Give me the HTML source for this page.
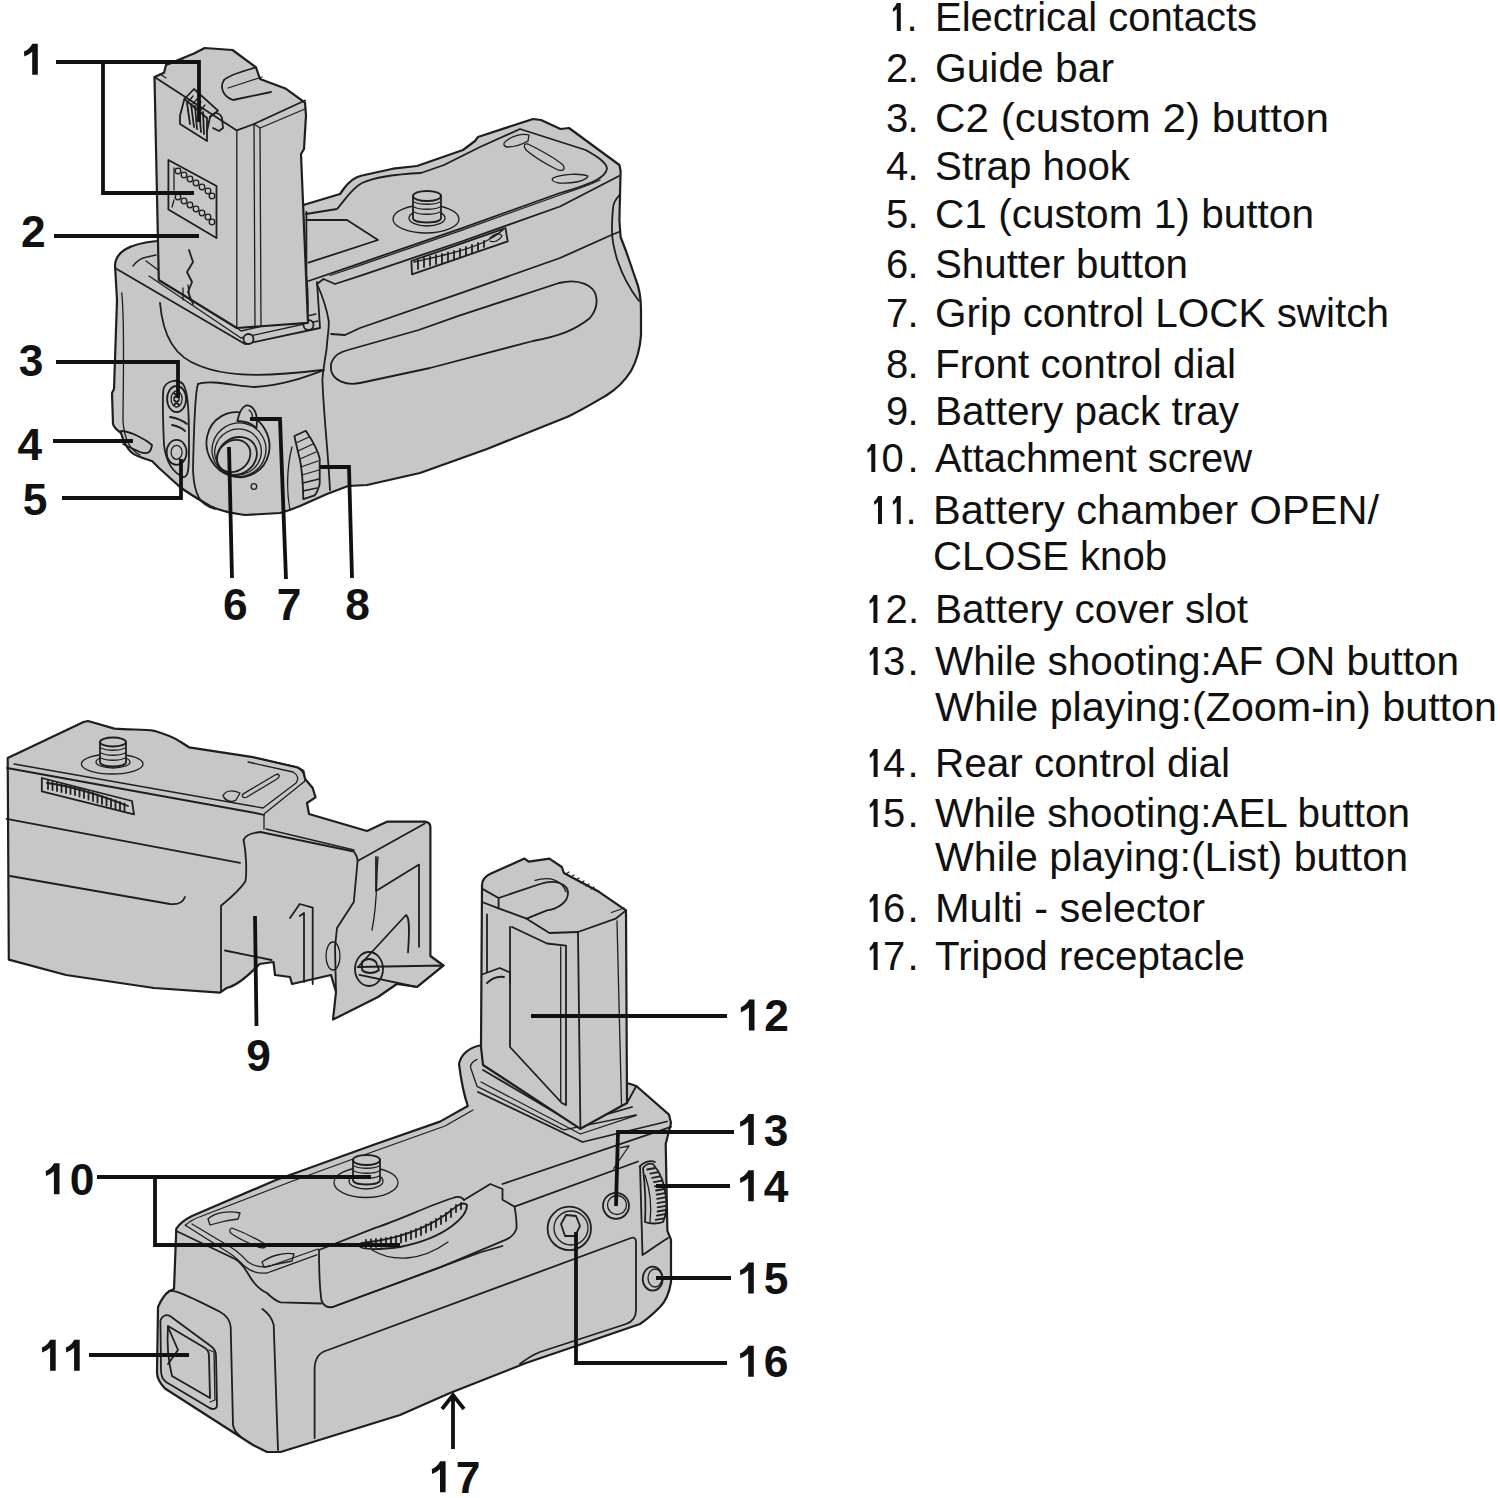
<!DOCTYPE html>
<html><head><meta charset="utf-8">
<style>
html,body{margin:0;padding:0;background:#fff;}
body{width:1500px;height:1498px;overflow:hidden;position:relative;}
svg{position:absolute;left:0;top:0;}
.t{font-family:"Liberation Sans",sans-serif;font-size:40px;fill:#111;}
.n{font-family:"Liberation Sans",sans-serif;font-weight:bold;font-size:44.3px;fill:#111;}
.one{fill:#111;stroke:none;}
.o{fill:#c7c7c7;stroke:#1e1e1e;stroke-width:2.2;stroke-linejoin:round;}
.l{fill:none;stroke:#1e1e1e;stroke-width:1.8;stroke-linecap:round;stroke-linejoin:round;}
.lt{fill:none;stroke:#1e1e1e;stroke-width:1.3;stroke-linecap:round;stroke-linejoin:round;}
.f{fill:#c7c7c7;stroke:#1e1e1e;stroke-width:1.8;stroke-linejoin:round;}
.ld{fill:none;stroke:#111;stroke-width:3.8;}
</style></head><body>
<svg width="1500" height="1498" viewBox="0 0 1500 1498">
<g id="top">
  <!-- body silhouette -->
  <path class="o" d="M115,265 C116,252 128,244 157,241 L300,206 L340,194 L344,188.5 C350,180 356,177 361,175.7 L393,168.7 L417,166 L463,150 L475,141 L478,137 L533,119 L541,120 L560.5,129 L569,128 L619.4,165 L620.6,171 L619.4,220 L620.6,237 L626,251 L636,280 C640,290 641,300 641,310 L641,335 C640,350 636,362 631,371 C624,382 615,390 607,395 C590,405 580,411 567,417 L487,449 L420,473 L367,485 L348,486 L327,494 L300,506 C290,510 285,512 280,513 L245,515 C230,513 218,510 210,506 C198,499 188,493 180,487 L159,468 L152,461 C142,458 135,456 131,452 C126,447 123,440 121,433 C117,430 114,428 113,424 L112,393 L114,389 L117,300 Z"/>
  <!-- plate top inner border -->
  <path class="l" d="M306,214 L337,209 C345,200 352,188 362,183 C375,177 400,174 421,173 L444,165 L480,147 L520,129 L585.7,150 C598,157 606,162 607,168.4 C606,176 598,182 560,193 L460,228.8 L360,263.3 L308.5,281"/>
  <!-- slot quad -->
  <path class="l" d="M306.4,220 L347,220 L378,240 L308.5,262.7"/>
  <path class="l" d="M306.4,212 V276 C308,290 308,305 307.5,316"/>
  <!-- plate front edge -->
  <path class="lt" d="M330,275.5 L360,265.3 L460,230.8 L560,195 C575,190 590,185 600,180"/>

  <!-- grip top line -->
  <path class="l" d="M317,284 L323.5,279 L335,284 L360,275.8 L460,242 L560,206.5 L619,176"/>
  <!-- grip boundary -->
  <path class="l" d="M317,284 C322,295 327,310 328.8,321.5 C329,330 327,340 326.7,348 C325,360 323,370 322.4,380 C324,420 328,450 330,490"/>
  <!-- grip line -->
  <path class="l" d="M331,334 L345,335 L360,328 L460,293.4 L560,258 L611.4,235 L620,231.5"/>
  <!-- right inner contour -->
  <path class="l" d="M619,195.5 C615,200 613,205 613,208.7 C612,218 612,225 612,230.7 C612,238 613,242 613.6,245.4 C615,252 616,256 617.3,260 C624,280 632,292 639,301"/>
  <!-- oval -->
  <path class="l" d="M331,364 C334,355 340,352 348,350 L418.7,330 L460,315.4 L559,283 C580,278 594,286 596,296 C598,305 595,312 590,318 C575,330 560,336 533,341 L430,368 L360,383 C345,386 333,380 331,370 Z"/>
  <!-- strap slots -->
  <path class="lt" d="M528,144 C540,150 555,158 563,165 C566,170 562,172 556,169 C546,164 533,156 526,150 C523,146 524,143 528,144Z"/>
  <path class="lt" d="M506,141 C512,136 522,133 529,135 L528,141 C521,145 512,147 507,147 C503,146 503,143 506,141 Z"/>
  <path class="lt" d="M553,178 C562,174 580,173 588,176 C586,181 572,184 559,183 C553,182 551,180 553,178 Z"/>
  <!-- dial window -->
  <path class="l" d="M411.4,261 L505.5,228.2 L507.7,241.4 L412,274.3 Z"/>
  <path class="lt" d="M414,262 C440,256 470,250 488,240 C496,236 500,232 503,230"/>
  <path class="l" d="M418,260 v9 M424,258 v9 M430,256.5 v9 M436,255 v9 M442,254 v9 M448,252.5 v9 M454,251 v9 M460,249 v8.5 M466,247 v8 M472,245 v7.5 M478,243 v7 M484,241 v6"/>
  <path class="lt" d="M490,238 C494,234 500,232 502,236 C500,240 494,243 490,241"/>
  <!-- screw -->
  <ellipse class="lt" cx="426" cy="219" rx="33" ry="14"/>
  <ellipse class="lt" cx="427" cy="218" rx="18" ry="8"/>
  <path class="f" d="M413,196 L413,218 C413,224 441,224 441,218 L441,196 Z"/>
  <ellipse class="f" cx="427" cy="196" rx="14" ry="5"/>
  <path class="lt" d="M414,202 C420,205 434,205 440,202 M414,207 C420,210 434,210 440,207 M414,212 C420,215 434,215 440,212"/>
  <!-- left body inner line -->
  <path class="lt" d="M121.7,293 C125,320 123,390 123,420 C124,440 130,450 140,455"/>
  <!-- neck band -->
  <path class="l" d="M160,303 C163,337 175,357 200,366 C220,374 250,379 322,370"/>
  <!-- shutter panel -->
  <path class="l" d="M198,384 C210,379 240,387 255,387 C285,385 305,377 324,370"/>
  <path class="l" d="M198,384 C195,392 194,420 193,470 C194,495 200,505 215,509"/>
  <!-- dial curve -->
  <path class="lt" d="M292,447 C286,470 287,495 290,510"/>
  <!-- rim -->
  <path class="l" d="M115,268 L245,344 L320,328 L317,282"/>
  <path class="lt" d="M133,266 C136,262 140,258 147,257 L156,255"/>
  <path class="lt" d="M146,261 L241,331 L316,314"/>
  <path class="lt" d="M149,276 L241,338 L318,321"/>
  <circle class="f" cx="248.5" cy="339" r="5"/>
  <circle class="f" cx="308.5" cy="325" r="5"/>
  <!-- side buttons recess -->
  <path class="l" d="M163.5,389 C166,381 177,378 183,384 C189,392 189,420 189,450 C189,470 188,478 183,477 C172,472 166,462 164,445 C163,420 162,400 163.5,389 Z"/>
  <ellipse class="l" cx="176.6" cy="399" rx="9.5" ry="13"/><ellipse class="lt" cx="176.6" cy="399" rx="5.5" ry="8"/>
  <path class="l" d="M174,393 l5,5 M179,393 l-5,5 M174,400 l5,5 M179,400 l-5,5"/>
  <ellipse class="l" cx="176.6" cy="452.3" rx="10" ry="12.5"/><ellipse class="lt" cx="176.6" cy="452.3" rx="5.5" ry="7"/>
  <path class="l" d="M170,417 C176,418 182,420 187,424 M172,425 C177,426 182,428 185,431"/>
  <!-- strap hook -->
  <path class="l" d="M121,431 C130,431 145,439 152,445 C151,452 148,455 140,452 C133,449 127,446 123,444"/>
  <!-- shutter -->
  <ellipse class="l" cx="238" cy="444.7" rx="31" ry="33" transform="rotate(-30 238 444.7)"/>
  <path class="f" d="M237.4,421 C239,413 242,407 246,405.5 C250,405 254,408 256,414 C257,418 257,424 256.4,428 C252,424 246,421 237.4,421 Z"/>
  <path class="lt" d="M249,410 C252,412 253,416 252,420"/>
  <ellipse class="lt" cx="239" cy="449.7" rx="27" ry="26.7" transform="rotate(-30 239 449.7)"/>
  <ellipse class="lt" cx="238" cy="452" rx="23.5" ry="22.8" transform="rotate(-30 238 452)"/>
  <ellipse class="l" cx="236.9" cy="456" rx="20.9" ry="18" transform="rotate(-35 236.9 456)"/>
  <ellipse class="f" cx="233.7" cy="456" rx="17.7" ry="15" transform="rotate(-40 233.7 456)"/>
  <circle class="lt" cx="253.9" cy="486.5" r="2.8"/>
  <!-- front dial -->
  <path class="l" d="M294.4,436 L305.8,430.8 C312,440 318,450 319.7,458.7 L319.7,484 C318,490 316,494 314.7,495.4 L303.3,499.2 C303,485 302,470 300,460 C298,452 296,444 294.4,436 Z"/>
  <path class="lt" d="M296,443 L309,437 M298,451 L313,444 M300,459 L316,452 M301,467 L318,461 M302,475 L319,470 M303,483 L319,479 M303,491 L317,488"/>
</g>
<g id="topbat">
  <!-- battery silhouette -->
  <path class="o" d="M154.5,77 L164,72.7 L166,65 L194,53.5 L204.7,48 L232.5,50 L256,67.4 L260,79 L286,88.8 L305,102.7 L306,115.5 L304,149 L301,154 L308,322.8 L236.8,328 L158.8,280 Z"/>
  <path class="lt" d="M160,74 L166,78 M166,65 L183,60"/>
  <!-- front face top edge -->
  <path class="l" d="M154.5,77 L236.8,130.4 L254,124 L305,100.5"/>
  <path class="lt" d="M236.8,130.4 L236.8,328 M254,124 L255,327 M260,128 L261,326"/>
  <path class="lt" d="M254,124 L260,128 L305,109"/>
  <!-- top groove -->
  <path class="l" d="M256,67.4 C248,70 230,74 224,80 C219,88 224,97 233,100 L271,92"/>
  <path class="lt" d="M228,88 L262,77"/>
  <!-- contact slot -->
  <path class="l" d="M180,115.7 L184.4,99 L194,89 L218,110.6 L210,117 L207,131 L207,141 L180,124 Z"/>
  <path class="l" d="M184.4,99 L207,118 L207,131"/>
  <path class="l" d="M187,103 L190,124 M191,104 L194,127 M195,106 L197,129 M199,109 L201,132 M203,112 L204,134"/>
  <path class="lt" d="M189,101 L193,96 M193,104 L197,99 M197,107 L201,102 M201,110 L205,105"/>
  <path class="l" d="M210,117 L213,114 C217,112 221,114 222,118 L223,128 L219,131 L213,128"/>
  <!-- contact grid -->
  <path class="l" d="M168.4,160 L216.5,186 L216.5,238 L168.4,209.5 Z"/>
  <path class="lt" d="M174,168 L174,190 M174,200 L172,207"/>
  <g class="lt">
    <circle cx="178" cy="171" r="2.8"/><circle cx="184" cy="175" r="2.8"/><circle cx="190" cy="179" r="2.8"/><circle cx="196" cy="183" r="2.8"/><circle cx="202" cy="187" r="2.8"/><circle cx="208" cy="191" r="2.8"/><circle cx="212" cy="196" r="2.8"/>
    <circle cx="178" cy="197" r="2.8"/><circle cx="184" cy="201" r="2.8"/><circle cx="190" cy="205" r="2.8"/><circle cx="196" cy="209" r="2.8"/><circle cx="202" cy="213" r="2.8"/><circle cx="208" cy="217" r="2.8"/><circle cx="212" cy="222" r="2.8"/>
  </g>
  <!-- guide bar -->
  <path class="l" d="M189,250 L193,262 L187,272 L192,282 L188,292 L193,304"/>
  <path class="lt" d="M183,288 L183,300 M188,285 L190,300"/>
</g>
<g id="tray">
  <!-- silhouette: block + tray -->
  <path class="o" d="M7.7,758 L83.6,722 L88,721 L114.4,728.6 C130,730 145,729 154,730.8 C165,734 175,738 180.4,741.8 L189,747.3 L253,757.2 L297.8,767.5 L303.4,771 L305,778.7 L312.7,788 L315.5,797.4 L307,803 L309,814 L367,831 L387.5,821.6 L424.8,821.6 C428,822 430.4,824 430.4,827 L430.4,956 L443.5,965.5 L417,987 L396.8,984 L378,997 L333,1019.6 L336,992 L331,975 L292,984 L290,977 L275,975 L273.5,962 L259.6,964 C250,974 236,986 226.6,988 L220,992.6 L154,988 L66,975 L8.8,959.6 Z"/>
  <!-- block internal -->
  <path class="l" d="M7,768 L250,812 C256,813 260,814 264,815"/>
  <path class="lt" d="M253,757.2 L297,767 C302,770 305,775 305,781 L264,814"/>
  <path class="lt" d="M248,762 L293,772 C298,775 299,779 296,783 L263,808 L14,764"/>
  <path class="l" d="M6.6,818.8 L240,862.8"/>
  <path class="l" d="M10,876 L170,904 C178,905 183,902 185,897"/>
  <path class="l" d="M41.8,778 L132,801 L134,814.4 L41.8,791.3 Z"/>
  <path class="l" d="M47,783 C70,786 100,795 128,806"/>
  <path class="l" d="M48,781 v8 M52.5,782 v8 M57,783 v8 M61.5,784 v8 M66,785 v8 M70.5,786 v8 M75,787 v8 M79.5,788.5 v8 M84,790 v8 M88.5,791.5 v8 M93,793 v8 M97.5,794.5 v8 M102,796 v8 M106.5,797.5 v8 M111,799 v8 M115.5,800.5 v8 M120,802 v8 M124.5,803.5 v7"/>
  <ellipse class="lt" cx="112.2" cy="764" rx="30.8" ry="10"/>
  <ellipse class="lt" cx="113" cy="762" rx="17" ry="6"/>
  <path class="f" d="M100,742 L100,762 C100,768 126,768 126,762 L126,742 Z"/>
  <ellipse class="f" cx="113" cy="742" rx="13" ry="4.5"/>
  <path class="lt" d="M101,748 C107,751 119,751 125,748 M101,753 C107,756 119,756 125,753 M101,758 C107,761 119,761 125,758"/>
  <path class="lt" d="M243.6,793.6 L275,775 C279,773 281,776 277,779 L247,797 C243,799 241,796 243.6,793.6 Z"/>
  <path class="lt" d="M223,795.5 C226,790 233,790 240,793 L236,800 C231,803 225,801 223,795.5 Z"/>
  <path class="lt" d="M264,815 L264,829"/>
  <!-- tray face -->
  <path class="l" d="M243.6,840 C245,836 250,833 260.4,832 L353.8,851.5 C357,856 357.6,858 357.6,861 L353.8,902 L337,928 L335,946.8 L336,992"/>
  <path class="l" d="M243.6,840 C246,852 247,870 245.5,881 C240,890 228,900 221,905.7 L221,946.8 L221,991.6"/>
  <path class="lt" d="M266,829 L354,850"/>
  <path class="l" d="M225,950.5 L271.6,960"/>
  <!-- guide L -->
  <path class="l" d="M290,918 L299.7,904 L312.7,907.6 L312.7,984 M299.7,916 L304,913 L304,982"/>
  <!-- frame -->
  <path class="l" d="M357.6,861 L424.8,823.5"/>
  <path class="lt" d="M378,857 C376,880 378,900 372,930"/>
  <path class="l" d="M376,857 L376,891 L419,864.6 L419,946.8"/>
  <path class="l" d="M359.4,965.5 L406,915 C409,917 410,925 408,952.4"/>
  <path class="l" d="M357.6,967 L443.5,965.5 L417,987 L359.4,974.8"/>
  <ellipse class="l" cx="369" cy="969" rx="14" ry="17"/>
  <path class="l" d="M362,962 C366,958 372,958 376,962 L379,970 C374,974 366,974 362,970 Z"/>
  <ellipse class="lt" cx="333" cy="956" rx="7" ry="14"/>
</g>
<g id="grip2">
  <!-- silhouette lower grip -->
  <path class="o" d="M459,1064 C461,1055 467,1048 481.7,1045 L627,1083 L636.3,1086 L669,1114.6 L671,1123 L665.7,1144 L667.4,1231 L671,1239.6 L671,1282 C669,1295 665,1302 660,1307 C652,1315 646,1320 640,1324 L576,1346 L526,1363 L450,1393 L400,1415 L280.6,1452 L267,1452 L253,1445 L165,1388.5 C159,1382 157,1378 157,1372.7 L158,1307 C161,1300 165,1294 169.5,1291 L174,1289 L176.3,1228.7 C180,1223 186,1219 192,1216 L276,1180 L373,1145 L440,1121.6 L467.8,1106 C464,1095 461,1080 459,1064 Z"/>
  <!-- top surface inner borders -->
  <path class="lt" d="M185.3,1225.3 C190,1221 196,1218 202,1216 L290,1182 L375,1151 L445,1126 L473,1110"/>
  <path class="l" d="M176.3,1231 L235,1259 C242,1263 246,1270 248.8,1275 C254,1284 260,1290 267,1293 C272,1298 276,1301 280.6,1302.4 L321,1303.5"/>
  <path class="lt" d="M185.3,1225.3 L228.4,1252.5 C236,1257 240,1262 244.3,1266 C250,1271 258,1274 267,1273 L316.8,1254.8"/>
  <path class="lt" d="M192,1224 L232,1248 C240,1253 244,1258 248,1262 C254,1266 262,1268 270,1266 L318,1249"/>
  <!-- strap slots -->
  <path class="lt" d="M208,1219 C214,1213 228,1210 240,1213 L238,1219 C228,1220 216,1223 210,1225 Z"/>
  <path class="lt" d="M232,1228 C240,1231 255,1238 265,1244 C268,1247 264,1249 258,1247 C248,1243 238,1238 232,1234 C229,1232 229,1229 232,1228 Z"/>
  <path class="lt" d="M262,1262 C270,1256 284,1252 294,1254 L292,1261 C282,1263 270,1266 264,1267 Z"/>
  <!-- raised housing -->
  <path class="l" d="M319,1250 L375.8,1227.6 C400,1220 430,1205 452.8,1198 C458,1196 462,1197 464,1200"/>
  <path class="l" d="M319,1250 C319,1270 320,1290 321.4,1300 C323,1306 328,1308 332.7,1307 L480,1252.5 L502.5,1246"/>
  <!-- screw -->
  <ellipse class="lt" cx="366" cy="1182.5" rx="32" ry="15"/>
  <ellipse class="lt" cx="366" cy="1181" rx="17" ry="8"/>
  <path class="f" d="M353,1160 L353,1180 C353,1186 380,1186 380,1180 L380,1160 Z"/>
  <ellipse class="f" cx="366.5" cy="1160" rx="13.5" ry="5"/>
  <path class="lt" d="M354,1166 C360,1169 374,1169 379,1166 M354,1171 C360,1174 374,1174 379,1171 M354,1176 C360,1179 374,1179 379,1176"/>
  <!-- dial -->
  <path class="l" d="M362.6,1243 C390,1240 420,1232 445,1215 C455,1208 462,1200 467,1205 C467,1212 460,1220 452,1226 C440,1235 420,1243 400,1247 C385,1249 370,1250 362.6,1248 C358,1246 358,1244 362.6,1243 Z"/>
  <path class="l" d="M366,1240 v8 M371,1239.5 v8 M376,1239 v8 M381,1238.5 v8 M386,1238 v8 M391,1237 v8 M396,1236 v8 M401,1234.5 v8 M406,1233 v8 M411,1231 v8 M416,1229 v8 M421,1227 v8 M426,1224.5 v8 M431,1222 v8 M436,1219 v8 M441,1216 v8 M446,1213 v8 M451,1209 v8 M456,1205 v7 M461,1203 v6"/>
  <path class="lt" d="M372,1250 C392,1262 420,1262 448,1242"/>
  <!-- front step -->
  <path class="l" d="M464,1200 L490.3,1184 L502.5,1189 L502.5,1199.7 L514.6,1206.7 L638,1161.5"/>
  <path class="l" d="M502.5,1184 L671,1126.8"/>
  <path class="l" d="M514.6,1206.7 C516,1215 517,1222 516.4,1229 C514,1235 510,1238 506,1239.6 L440,1267.4 L332.7,1307"/>
  <!-- left face -->
  <path class="l" d="M169.5,1291 C175,1290 185,1294 219.4,1311.5 C226,1315 230,1320 230.7,1327 L233,1425 C234,1430 236,1433 240,1436"/>
  <path class="l" d="M262.4,1309 C268,1313 272,1318 273.7,1325 L278,1450"/>
  <!-- knob 11 -->
  <path class="l" d="M160.4,1320.5 C162,1316 166,1314 170,1316 L210,1345.5 C214,1348 216,1352 216,1356 L217,1404.4 C217,1410 212,1410 208,1407 L166,1382 C162,1379 161,1375 161,1370 Z"/>
  <path class="f" d="M168,1326 L205,1348 C208,1350 209,1353 209,1356 L210,1398 L172,1376 C168,1360 167,1340 168,1326 Z"/>
  <path class="l" d="M168,1327 L178,1350 L168,1364"/>
  <path class="lt" d="M209,1350 L214,1352 L215,1400 L210,1402"/>
  <!-- battery cover panel -->
  <path class="l" d="M314.6,1438 L314.6,1368 C315,1358 320,1352 328,1350 L631,1238 C634,1237 636,1238 636,1242 L636,1310 C636,1318 632,1322 626,1324 L540,1352 C530,1356 525,1360 520,1364"/>
  <!-- right side -->
  <path class="l" d="M639.6,1166.7 C643,1162 650,1160 655,1162 M640,1166 L642.5,1255 C650,1250 660,1243 668,1238"/>
  <path class="lt" d="M620.5,1147.6 L629,1146 L613.6,1168.5"/>
  <path class="f" d="M643,1168 C646,1164 650,1163 653,1164 C660,1172 665,1185 666,1198 C667,1208 666,1216 663,1222 C658,1224 650,1224 645,1222 C646,1205 645,1185 643,1168 Z"/>
  <path class="l" d="M647.2,1169.5 L655.2,1168.0 M650.3,1173.7 L658.3,1172.2 M652.1,1177.9 L660.1,1176.4 M653.9,1182.1 L661.9,1180.6 M654.9,1186.3 L662.9,1184.8 M656.0,1190.5 L664.0,1189.0 M656.6,1194.7 L664.6,1193.2 M657.1,1198.9 L665.1,1197.4 M657.4,1203.1 L665.4,1201.6 M657.6,1207.3 L665.6,1205.8 M657.5,1211.5 L665.5,1210.0 M656.9,1215.7 L664.9,1214.2 M655.7,1219.9 L663.7,1218.4"/>
  <path class="lt" d="M645,1175 C650,1190 652,1205 650,1222"/>
  <!-- buttons -->
  <circle class="l" cx="569.3" cy="1228.4" r="21.7"/>
  <circle class="lt" cx="571" cy="1228" r="17"/>
  <path class="l" d="M561,1224 L566,1215 L576,1216 L580,1226 L575,1236 L565,1236 Z"/>
  <circle class="l" cx="616" cy="1205.8" r="13"/>
  <circle class="lt" cx="617" cy="1205" r="9.5"/>
  <ellipse class="l" cx="652.7" cy="1278.7" rx="10" ry="12"/>
  <ellipse class="lt" cx="655" cy="1278" rx="7" ry="9"/>
  <!-- rim around battery -->
  <path class="lt" d="M477,1059.4 C472,1062 470,1065 470.7,1068 L477,1086.3 L563.9,1129.8 L636,1115"/>
  <path class="l" d="M483,1070 L574,1123.6 L632,1107"/>
  <path class="lt" d="M481,1082 L580.4,1134 L636.3,1115.3"/>
  <path class="l" d="M478,1092 L582.5,1142 L667,1121.5"/>
  <path class="l" d="M627,1103 L636.3,1086"/>
</g>
<g id="bat12">
  <path class="o" d="M482,885 C482,880 484,877 490,874 L524.5,858.6 L528.7,861.7 L549.4,858.6 L561.8,867 L563.9,873 L599,891.8 L626,910.4 L627,1103 L619.7,1107 L580.4,1128.8 L483,1065 L481,1047 Z"/>
  <path class="l" d="M482,888.6 L498.6,898 L498.6,908.3 L482,902"/>
  <path class="l" d="M498.6,898 L540,884 C556,879 568,884 568,893 C568,902 558,909 547,910.4 L526.6,918.7"/>
  <path class="lt" d="M535,880.4 C550,876 562,880 566,891.8"/>
  <path class="l" d="M498.6,908.3 L526.6,918.7 L549.4,933 L578,932 L615.6,918.7 L626,910.4"/>
  <path class="lt" d="M611.5,912.5 L624,908 M563.9,873 L599,891.8"/>
  <path class="lt" d="M566,874 l3,-2 M571,877 l3,-2 M576,880 l3,-2 M581,883 l3,-2 M586,886 l3,-2 M591,889 l3,-2"/>
  <path class="l" d="M578,932 L580.4,1128.8"/>
  <path class="l" d="M510,927 L510,1047 L561.8,1103 L566,1105 L566,945.6 L547,943.5 L512,927"/>
  <path class="lt" d="M560.7,947 L560.7,1100.8"/>
  <path class="lt" d="M617,921 L621.5,1105"/>
  <path class="l" d="M482,974.5 L499.7,968 L510,972.5 L510,982.8 M487,983 C492,978 498,976 504,977"/>
  <path class="l" d="M487,914.5 L487,972"/>
</g>
<g class="ld">
  <path d="M56,62 H199 V122 M103,63 V193 H194"/>
  <path d="M54,236 H199"/>
  <path d="M56,362 H178 V398"/>
  <path d="M53,441 H133"/>
  <path d="M62,498 H181 V459"/>
  <path d="M229,447 L232,578"/>
  <path d="M250,419 H280 L286,579"/>
  <path d="M320,467 H349 L352,578"/>
  <path d="M255,916 L256.5,1026"/>
  <path d="M97,1177 H371 M155,1177 V1245 H400"/>
  <path d="M89,1355 H189"/>
  <path d="M531,1016 H727"/>
  <path d="M734,1132 H618 L616,1206"/>
  <path d="M656,1186 H730"/>
  <path d="M656,1278 H731"/>
  <path d="M576,1232 V1363 H727"/>
  <path d="M453,1449 V1396 M442,1409 L453,1395 L464,1409"/>
</g>
<!-- labels -->
<g class="n">
<path class="one" d="M32.4,43.8 L37.8,43.8 L37.8,74.8 L32.2,74.8 L32.2,51.8 C30.0,53.8 27.0,55.3 24.3,56.6 L24.0,51.6 C27.5,50.1 30.5,47.6 32.4,43.8 Z"/>
<text x="21.1" y="247.3">2</text>
<text x="18.7" y="376.1">3</text>
<text x="17.4" y="459.5">4</text>
<text x="22.7" y="515.0">5</text>
<text x="222.9" y="619.5">6</text>
<text x="276.7" y="619.8">7</text>
<text x="345.3" y="620.0">8</text>
<text x="246.2" y="1070.8">9</text>
<path class="one" d="M54.1,1163.3 L59.5,1163.3 L59.5,1194.3 L53.9,1194.3 L53.9,1171.3 C51.7,1173.3 48.7,1174.8 46.0,1176.1 L45.7,1171.1 C49.2,1169.6 52.2,1167.1 54.1,1163.3 Z"/>
<text x="69.7" y="1194.8">0</text>
<path class="one" d="M50.3,1339.8 L55.7,1339.8 L55.7,1370.8 L50.1,1370.8 L50.1,1347.8 C47.9,1349.8 44.9,1351.3 42.2,1352.6 L41.9,1347.6 C45.4,1346.1 48.4,1343.6 50.3,1339.8 Z"/>
<path class="one" d="M74.3,1339.8 L79.7,1339.8 L79.7,1370.8 L74.1,1370.8 L74.1,1347.8 C71.9,1349.8 68.9,1351.3 66.2,1352.6 L65.9,1347.6 C69.4,1346.1 72.4,1343.6 74.3,1339.8 Z"/>
<path class="one" d="M749.1,999.6 L754.5,999.6 L754.5,1030.6 L748.9,1030.6 L748.9,1007.6 C746.7,1009.6 743.7,1011.1 741.0,1012.4 L740.7,1007.4 C744.2,1005.9 747.2,1003.4 749.1,999.6 Z"/>
<text x="764.2" y="1031.1">2</text>
<path class="one" d="M748.4,1114.0 L753.8,1114.0 L753.8,1145.0 L748.2,1145.0 L748.2,1122.0 C746.0,1124.0 743.0,1125.5 740.3,1126.8 L740.0,1121.8 C743.5,1120.3 746.5,1117.8 748.4,1114.0 Z"/>
<text x="763.7" y="1145.5">3</text>
<path class="one" d="M748.4,1170.3 L753.8,1170.3 L753.8,1201.3 L748.2,1201.3 L748.2,1178.3 C746.0,1180.3 743.0,1181.8 740.3,1183.1 L740.0,1178.1 C743.5,1176.6 746.5,1174.1 748.4,1170.3 Z"/>
<text x="763.7" y="1201.8">4</text>
<path class="one" d="M748.4,1262.5 L753.8,1262.5 L753.8,1293.5 L748.2,1293.5 L748.2,1270.5 C746.0,1272.5 743.0,1274.0 740.3,1275.3 L740.0,1270.3 C743.5,1268.8 746.5,1266.3 748.4,1262.5 Z"/>
<text x="763.7" y="1294.0">5</text>
<path class="one" d="M748.4,1345.7 L753.8,1345.7 L753.8,1376.7 L748.2,1376.7 L748.2,1353.7 C746.0,1355.7 743.0,1357.2 740.3,1358.5 L740.0,1353.5 C743.5,1352.0 746.5,1349.5 748.4,1345.7 Z"/>
<text x="763.7" y="1377.2">6</text>
<path class="one" d="M440.2,1461.2 L445.6,1461.2 L445.6,1492.2 L440.0,1492.2 L440.0,1469.2 C437.8,1471.2 434.8,1472.7 432.1,1474.0 L431.8,1469.0 C435.3,1467.5 438.3,1465.0 440.2,1461.2 Z"/>
<text x="455.7" y="1492.7">7</text>
</g>
<!-- legend -->
<g class="t">
  <path class="one" d="M896.8,3.0 L900.8,3.0 L900.8,31.0 L896.8,31.0 L896.8,9.0 C895.8,10.2 894.4,11.2 893.1,11.8 L892.8,8.6 C894.4,7.4 895.8,5.4 896.8,3.0 Z"/>
  <text x="906.4" y="31">.</text>
  <text x="886.0" y="82">2</text>
  <text x="907.5" y="82">.</text>
  <text x="886.0" y="132">3</text>
  <text x="907.5" y="132">.</text>
  <text x="886.0" y="180">4</text>
  <text x="907.5" y="180">.</text>
  <text x="886.0" y="228">5</text>
  <text x="907.5" y="228">.</text>
  <text x="886.0" y="278">6</text>
  <text x="907.5" y="278">.</text>
  <text x="886.0" y="327">7</text>
  <text x="907.5" y="327">.</text>
  <text x="886.0" y="378">8</text>
  <text x="907.5" y="378">.</text>
  <text x="886.0" y="425">9</text>
  <text x="907.5" y="425">.</text>
  <path class="one" d="M871.3,444.0 L875.3,444.0 L875.3,472.0 L871.3,472.0 L871.3,450.0 C870.3,451.2 868.9,452.2 867.6,452.8 L867.3,449.6 C868.9,448.4 870.3,446.4 871.3,444.0 Z"/>
  <text x="881.4" y="472">0</text>
  <text x="907.4" y="472">.</text>
  <path class="one" d="M878.0,496.0 L882.0,496.0 L882.0,524.0 L878.0,524.0 L878.0,502.0 C877.0,503.2 875.6,504.2 874.3,504.8 L874.0,501.6 C875.6,500.4 877.0,498.4 878.0,496.0 Z"/>
  <path class="one" d="M896.7,496.0 L900.7,496.0 L900.7,524.0 L896.7,524.0 L896.7,502.0 C895.7,503.2 894.3,504.2 893.0,504.8 L892.7,501.6 C894.3,500.4 895.7,498.4 896.7,496.0 Z"/>
  <text x="905.4" y="524">.</text>
  <path class="one" d="M873.4,595.0 L877.4,595.0 L877.4,623.0 L873.4,623.0 L873.4,601.0 C872.4,602.2 871.0,603.2 869.7,603.8 L869.4,600.6 C871.0,599.4 872.4,597.4 873.4,595.0 Z"/>
  <text x="885.4" y="623">2</text>
  <text x="908.0" y="623">.</text>
  <path class="one" d="M873.6,647.0 L877.6,647.0 L877.6,675.0 L873.6,675.0 L873.6,653.0 C872.6,654.2 871.2,655.2 869.9,655.8 L869.6,652.6 C871.2,651.4 872.6,649.4 873.6,647.0 Z"/>
  <text x="883.0" y="675">3</text>
  <text x="907.6" y="675">.</text>
  <path class="one" d="M873.6,749.0 L877.6,749.0 L877.6,777.0 L873.6,777.0 L873.6,755.0 C872.6,756.2 871.2,757.2 869.9,757.8 L869.6,754.6 C871.2,753.4 872.6,751.4 873.6,749.0 Z"/>
  <text x="883.0" y="777">4</text>
  <text x="907.6" y="777">.</text>
  <path class="one" d="M873.6,799.0 L877.6,799.0 L877.6,827.0 L873.6,827.0 L873.6,805.0 C872.6,806.2 871.2,807.2 869.9,807.8 L869.6,804.6 C871.2,803.4 872.6,801.4 873.6,799.0 Z"/>
  <text x="883.0" y="827">5</text>
  <text x="907.6" y="827">.</text>
  <path class="one" d="M873.6,894.0 L877.6,894.0 L877.6,922.0 L873.6,922.0 L873.6,900.0 C872.6,901.2 871.2,902.2 869.9,902.8 L869.6,899.6 C871.2,898.4 872.6,896.4 873.6,894.0 Z"/>
  <text x="883.0" y="922">6</text>
  <text x="907.6" y="922">.</text>
  <path class="one" d="M873.6,942.0 L877.6,942.0 L877.6,970.0 L873.6,970.0 L873.6,948.0 C872.6,949.2 871.2,950.2 869.9,950.8 L869.6,947.6 C871.2,946.4 872.6,944.4 873.6,942.0 Z"/>
  <text x="883.0" y="970">7</text>
  <text x="907.6" y="970">.</text>
  <text x="935" y="31" textLength="322" lengthAdjust="spacingAndGlyphs">Electrical contacts</text>
  <text x="935" y="82" textLength="179" lengthAdjust="spacingAndGlyphs">Guide bar</text>
  <text x="935" y="132" textLength="394" lengthAdjust="spacingAndGlyphs">C2 (custom 2) button</text>
  <text x="935" y="180" textLength="195" lengthAdjust="spacingAndGlyphs">Strap hook</text>
  <text x="935" y="228" textLength="379" lengthAdjust="spacingAndGlyphs">C1 (custom 1) button</text>
  <text x="935" y="278" textLength="253" lengthAdjust="spacingAndGlyphs">Shutter button</text>
  <text x="935" y="327" textLength="454" lengthAdjust="spacingAndGlyphs">Grip control LOCK switch</text>
  <text x="935" y="378" textLength="301" lengthAdjust="spacingAndGlyphs">Front control dial</text>
  <text x="935" y="425" textLength="304" lengthAdjust="spacingAndGlyphs">Battery pack tray</text>
  <text x="935" y="472" textLength="317" lengthAdjust="spacingAndGlyphs">Attachment screw</text>
  <text x="933" y="524" textLength="446" lengthAdjust="spacingAndGlyphs">Battery chamber OPEN/</text>
  <text x="933" y="570" textLength="234" lengthAdjust="spacingAndGlyphs">CLOSE knob</text>
  <text x="935" y="623" textLength="313" lengthAdjust="spacingAndGlyphs">Battery cover slot</text>
  <text x="935" y="675" textLength="524" lengthAdjust="spacingAndGlyphs">While shooting:AF ON button</text>
  <text x="935" y="721" textLength="562" lengthAdjust="spacingAndGlyphs">While playing:(Zoom-in) button</text>
  <text x="935" y="777" textLength="295" lengthAdjust="spacingAndGlyphs">Rear control dial</text>
  <text x="935" y="827" textLength="475" lengthAdjust="spacingAndGlyphs">While shooting:AEL button</text>
  <text x="935" y="871" textLength="473" lengthAdjust="spacingAndGlyphs">While playing:(List) button</text>
  <text x="935" y="922" textLength="270" lengthAdjust="spacingAndGlyphs">Multi - selector</text>
  <text x="935" y="970" textLength="310" lengthAdjust="spacingAndGlyphs">Tripod receptacle</text>
</g>
</svg>
</body></html>
